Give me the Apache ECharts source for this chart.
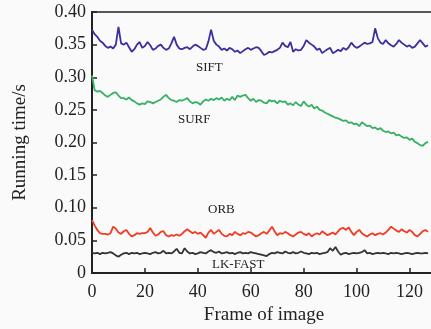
<!DOCTYPE html>
<html>
<head>
<meta charset="utf-8">
<script src="https://cdn.jsdelivr.net/npm/echarts@6/dist/echarts.min.js"></script>
<style>
	html, body { margin: 0; padding: 0; background: #fafafa; }
	#main { width: 431px; height: 329px; }
</style>
</head>
<body>
<div id="main"></div>
<script type="text/javascript">
	// running time per frame (s), frames 0..127
	var sift = [0.373,0.366,0.362,0.356,0.353,0.348,0.345,0.347,0.344,0.350,
		0.377,0.352,0.350,0.353,0.346,0.339,0.343,0.350,0.354,0.345,
		0.348,0.354,0.349,0.342,0.344,0.348,0.350,0.345,0.342,0.344,
		0.352,0.362,0.350,0.344,0.343,0.345,0.346,0.343,0.347,0.350,
		0.348,0.345,0.342,0.343,0.355,0.373,0.356,0.350,0.347,0.342,
		0.344,0.341,0.345,0.343,0.339,0.341,0.337,0.340,0.343,0.345,
		0.342,0.344,0.346,0.345,0.340,0.334,0.336,0.339,0.338,0.340,
		0.342,0.345,0.353,0.348,0.346,0.354,0.339,0.343,0.341,0.342,
		0.348,0.357,0.353,0.350,0.347,0.342,0.344,0.337,0.340,0.343,
		0.345,0.337,0.339,0.342,0.340,0.345,0.342,0.346,0.353,0.348,
		0.345,0.347,0.350,0.353,0.351,0.352,0.354,0.375,0.360,0.353,
		0.351,0.357,0.352,0.349,0.347,0.351,0.357,0.353,0.350,0.347,
		0.349,0.345,0.347,0.352,0.357,0.352,0.347,0.349];
	var surf = [0.303,0.280,0.278,0.279,0.276,0.272,0.270,0.273,0.276,0.277,
		0.272,0.268,0.268,0.266,0.269,0.265,0.263,0.260,0.258,0.260,
		0.259,0.263,0.262,0.260,0.262,0.264,0.266,0.270,0.273,0.268,
		0.265,0.264,0.262,0.265,0.264,0.266,0.268,0.263,0.260,0.262,
		0.261,0.258,0.263,0.266,0.264,0.267,0.265,0.268,0.266,0.269,
		0.264,0.267,0.265,0.270,0.265,0.272,0.270,0.272,0.273,0.268,
		0.264,0.267,0.262,0.265,0.264,0.261,0.260,0.265,0.263,0.264,
		0.260,0.264,0.262,0.263,0.258,0.260,0.257,0.262,0.258,0.256,
		0.263,0.258,0.255,0.258,0.252,0.255,0.250,0.249,0.246,0.244,
		0.242,0.240,0.238,0.237,0.235,0.233,0.234,0.230,0.231,0.228,
		0.229,0.225,0.231,0.228,0.225,0.226,0.222,0.223,0.220,0.222,
		0.218,0.216,0.217,0.214,0.215,0.211,0.212,0.209,0.207,0.208,
		0.204,0.206,0.201,0.199,0.196,0.195,0.199,0.201];
	var orb = [0.081,0.073,0.066,0.061,0.060,0.060,0.059,0.061,0.071,0.068,
		0.062,0.060,0.064,0.066,0.060,0.056,0.058,0.061,0.060,0.061,
		0.061,0.063,0.069,0.062,0.057,0.059,0.063,0.064,0.058,0.056,
		0.058,0.057,0.059,0.057,0.060,0.064,0.067,0.064,0.061,0.063,
		0.060,0.062,0.058,0.054,0.062,0.066,0.060,0.063,0.066,0.060,
		0.057,0.056,0.060,0.058,0.063,0.060,0.058,0.061,0.060,0.063,
		0.062,0.059,0.056,0.058,0.061,0.063,0.060,0.065,0.071,0.064,
		0.058,0.061,0.060,0.063,0.061,0.058,0.056,0.059,0.062,0.063,
		0.060,0.058,0.061,0.056,0.059,0.061,0.059,0.064,0.061,0.058,
		0.060,0.062,0.059,0.064,0.068,0.069,0.066,0.070,0.063,0.058,
		0.063,0.066,0.061,0.058,0.056,0.059,0.061,0.058,0.060,0.061,
		0.059,0.062,0.066,0.071,0.068,0.065,0.063,0.067,0.064,0.062,
		0.066,0.063,0.058,0.056,0.060,0.064,0.066,0.063];
	var lkfast = [0.031,0.030,0.031,0.029,0.031,0.030,0.031,0.032,0.030,0.027,
		0.025,0.028,0.030,0.031,0.029,0.031,0.030,0.031,0.029,0.030,
		0.031,0.030,0.029,0.031,0.032,0.030,0.031,0.034,0.030,0.031,
		0.030,0.033,0.037,0.031,0.030,0.038,0.033,0.030,0.031,0.029,
		0.030,0.032,0.031,0.030,0.033,0.035,0.032,0.031,0.033,0.030,
		0.031,0.032,0.030,0.031,0.029,0.031,0.032,0.030,0.031,0.030,
		0.032,0.031,0.030,0.029,0.028,0.027,0.026,0.029,0.031,0.030,
		0.032,0.031,0.030,0.033,0.031,0.030,0.032,0.030,0.031,0.033,
		0.031,0.030,0.029,0.031,0.030,0.031,0.029,0.030,0.031,0.032,
		0.038,0.034,0.040,0.033,0.028,0.030,0.031,0.029,0.030,0.031,
		0.030,0.031,0.032,0.035,0.030,0.031,0.029,0.030,0.031,0.030,
		0.031,0.030,0.029,0.031,0.030,0.031,0.030,0.029,0.030,0.031,
		0.030,0.029,0.030,0.031,0.030,0.030,0.031,0.030];
	var seriesNames = ['SIFT', 'SURF', 'ORB', 'LK-FAST'];
	var seriesColors = ['#3a2f9e', '#36b163', '#f23a22', '#333333'];

	var serif = '"Liberation Serif", "DejaVu Serif", serif';

	function pairs(arr) {
		return arr.map(function (v, i) { return [i, v]; });
	}

	var myChart = echarts.init(document.getElementById('main'));

	myChart.setOption({
		backgroundColor: '#fafafa',
		animation: false,
		grid: {
			left: 92, top: 12, bottom: 56, right: -5,
			outerBoundsMode: 'none',
			show: true, borderColor: '#222', borderWidth: 1.5
		},
		xAxis: {
			type: 'value', min: 0, max: 130, interval: 20,
			name: 'Frame of image', nameLocation: 'middle', nameGap: 33,
			nameTextStyle: { fontFamily: serif, fontSize: 19, color: '#222' },
			axisLine: { lineStyle: { color: '#222', width: 2 } },
			axisTick: { inside: true, length: 5, lineStyle: { color: '#222', width: 1.5 } },
			axisLabel: { fontFamily: serif, fontSize: 18, color: '#222', margin: 10, showMaxLabel: false },
			splitLine: { show: false }
		},
		yAxis: {
			type: 'value', min: 0, max: 0.4, interval: 0.05,
			name: 'Running time/s', nameLocation: 'middle', nameGap: 62,
			nameTextStyle: { fontFamily: serif, fontSize: 19, color: '#222' },
			axisLine: { show: true, lineStyle: { color: '#222', width: 2 } },
			axisTick: { show: true, inside: true, length: 5, lineStyle: { color: '#222', width: 1.5 } },
			axisLabel: {
				fontFamily: serif, fontSize: 18, color: '#222', margin: 6,
				formatter: function (v) { return v === 0 ? '0' : v.toFixed(2); }
			},
			splitLine: { show: false }
		},
		graphic: [
			{ type: 'text', left: 196, top: 61, style: { text: 'SIFT', font: '13px ' + serif, fill: '#222' } },
			{ type: 'text', left: 178, top: 113, style: { text: 'SURF', font: '13px ' + serif, fill: '#222' } },
			{ type: 'text', left: 208, top: 203, style: { text: 'ORB', font: '13px ' + serif, fill: '#222' } },
			{ type: 'text', left: 212, top: 258, style: { text: 'LK-FAST', font: '13px ' + serif, fill: '#222' } }
		],
		series: [sift, surf, orb, lkfast].map(function (arr, k) {
			return {
				name: seriesNames[k],
				type: 'line',
				data: pairs(arr),
				showSymbol: false,
				lineStyle: { color: seriesColors[k], width: 1.8 },
				itemStyle: { color: seriesColors[k] }
			};
		})
	});
</script>
</body>
</html>
